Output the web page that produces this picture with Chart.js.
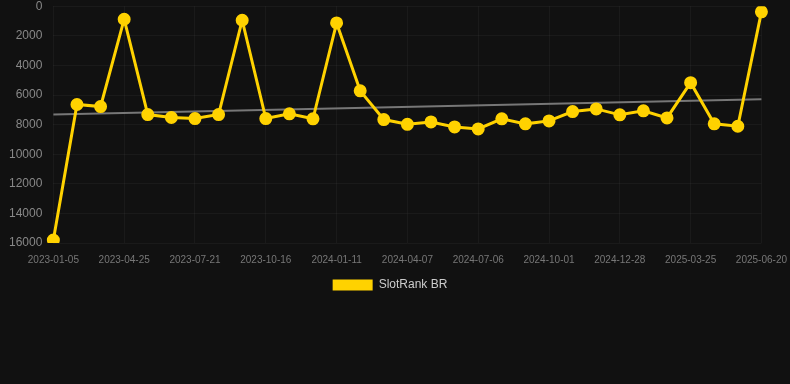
<!DOCTYPE html>
<html>
<head>
<meta charset="utf-8">
<script src="https://cdn.jsdelivr.net/npm/chart.js@4/dist/chart.umd.min.js"></script>
<style>
  html, body { margin: 0; padding: 0; background: #111111; overflow: hidden; }
  #wrap { position: relative; top: -4px; width: 790px; height: 305px; }
</style>
</head>
<body>
<div id="wrap"><canvas id="rank-chart"></canvas></div>
<script>
const dates = [
    "2023-01-05", "2023-02-10", "2023-03-20", "2023-04-25", "2023-05-24", "2023-06-22",
    "2023-07-21", "2023-08-19", "2023-09-17", "2023-10-16", "2023-11-14", "2023-12-13",
    "2024-01-11", "2024-02-09", "2024-03-09", "2024-04-07", "2024-05-07", "2024-06-06",
    "2024-07-06", "2024-08-04", "2024-09-02", "2024-10-01", "2024-10-30", "2024-11-28",
    "2024-12-28", "2025-01-26", "2025-02-24", "2025-03-25", "2025-04-23", "2025-05-22",
    "2025-06-20"
];
const rankBR = [
    15800, 6640, 6780, 880, 7320, 7520, 7590, 7320, 950, 7590, 7270, 7610,
    1130, 5720, 7660, 7980, 7820, 8160, 8290, 7610, 7950, 7750, 7120, 6940,
    7340, 7070, 7550, 5170, 7950, 8110, 380
];
// trend line, only the two end values are known
const trendStart = 7320;
const trendEnd = 6290;

let trend = dates.map(() => null);
trend[0] = trendStart;
trend[trend.length - 1] = trendEnd;

let ctx = document.getElementById('rank-chart').getContext('2d');
new Chart(ctx, {
    type: 'line',
    data: {
        labels: dates,
        datasets: [{
            label: 'SlotRank BR',
            data: rankBR,
            borderColor: '#ffd200',
            backgroundColor: '#ffd200',
            borderWidth: 3,
            pointRadius: 5,
            pointHoverRadius: 6,
            tension: 0
        }, {
            label: 'trend',
            data: trend,
            borderColor: '#777777',
            borderWidth: 2,
            pointRadius: 0,
            spanGaps: true
        }]
    },
    options: {
        responsive: true,
        maintainAspectRatio: false,
        animation: false,
        layout: {
            padding: { left: 6, right: 16 }
        },
        scales: {
            x: {
                grid: { color: 'rgba(255,255,255,0.04)', tickColor: 'transparent' },
                border: { display: false },
                ticks: {
                    color: '#777',
                    font: { size: 10 },
                    autoSkip: false,
                    maxRotation: 0,
                    callback: function (val, i) {
                        return i % 3 === 0 ? this.getLabelForValue(val) : null;
                    }
                }
            },
            y: {
                reverse: true,
                min: 0,
                max: 16000,
                grid: { color: 'rgba(255,255,255,0.04)', tickColor: 'transparent' },
                border: { display: false },
                ticks: {
                    stepSize: 2000,
                    color: '#888',
                    font: { size: 12 },
                    callback: v => String(v)
                }
            }
        },
        plugins: {
            legend: {
                position: 'bottom',
                labels: {
                    color: '#ccc',
                    font: { size: 12 },
                    boxWidth: 40,
                    boxHeight: 11,
                    filter: item => item.datasetIndex === 0,
                    generateLabels: function (chart) {
                        let items = Chart.defaults.plugins.legend.labels.generateLabels(chart);
                        items.forEach(it => { it.lineWidth = 0; });
                        return items;
                    }
                }
            },
            tooltip: { enabled: false }
        }
    }
});
</script>
</body>
</html>
